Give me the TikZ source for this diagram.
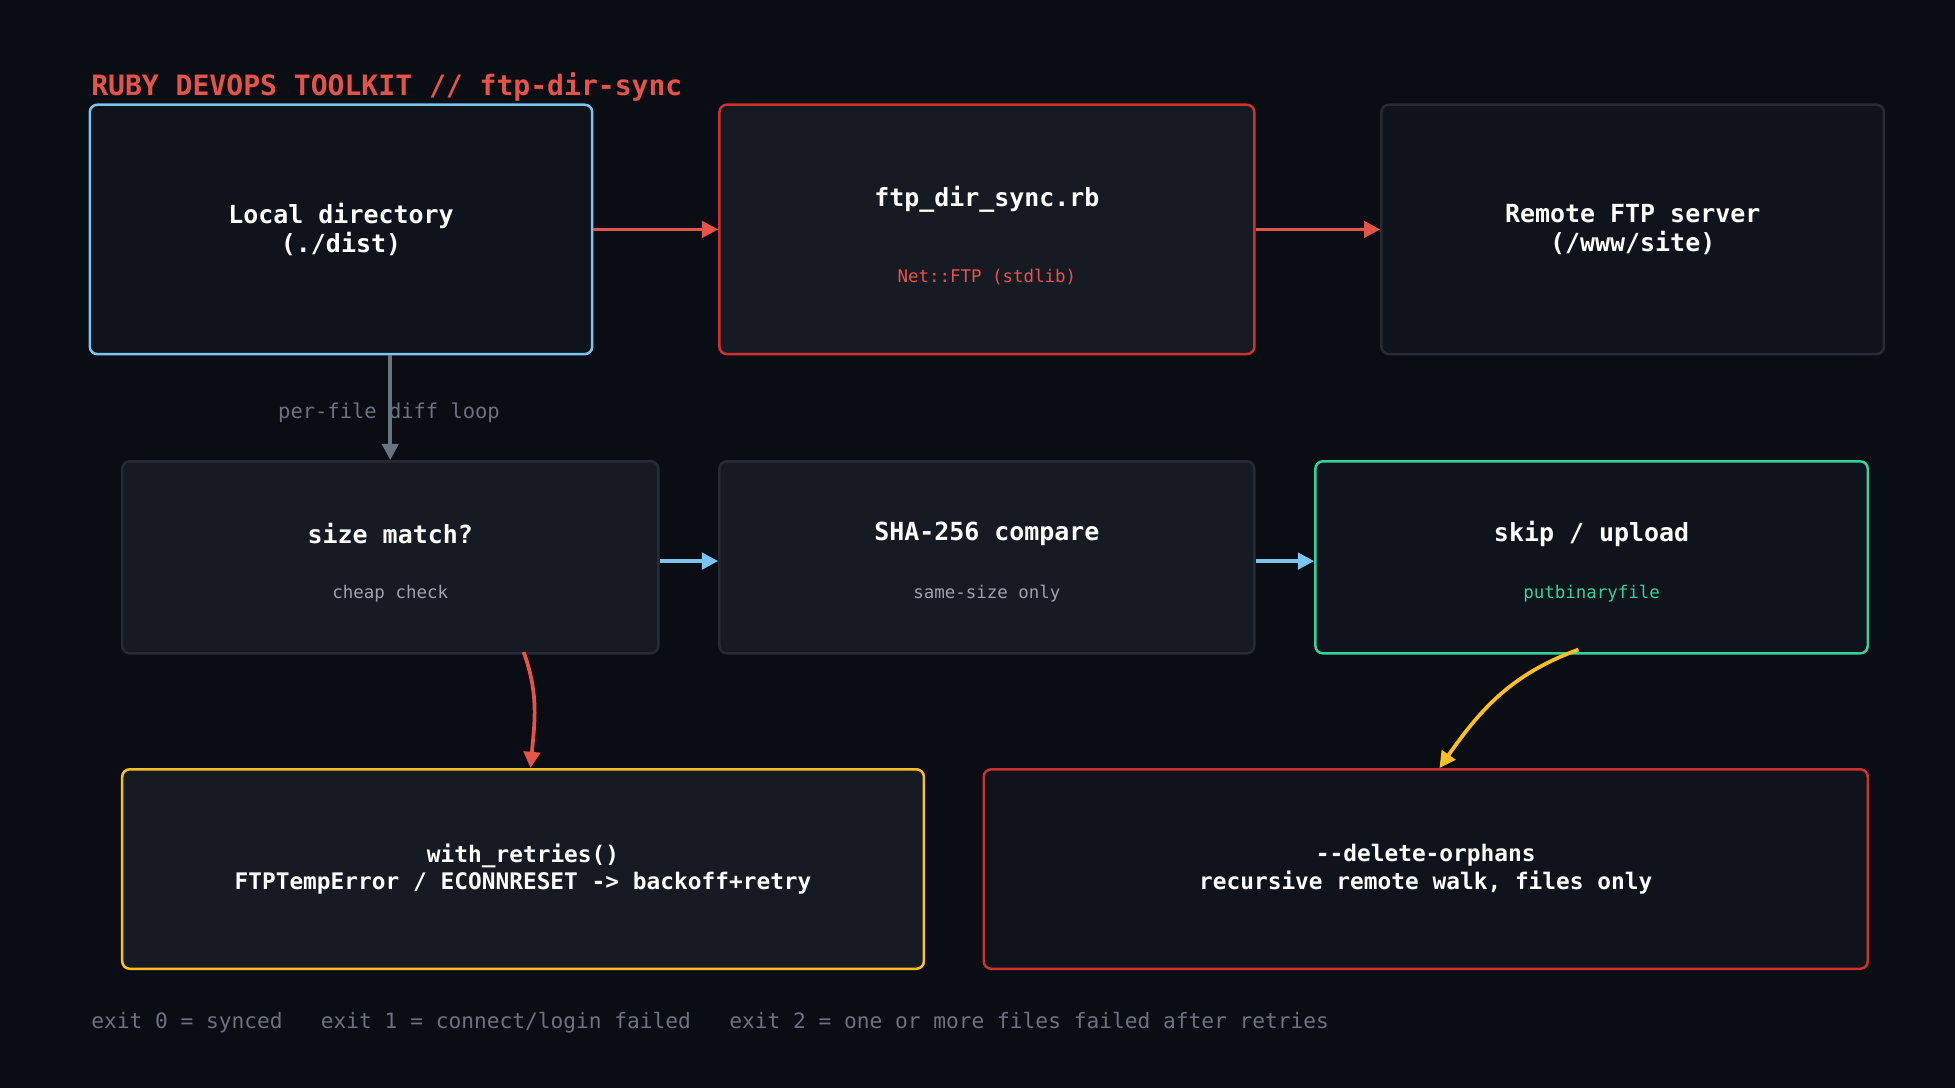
\documentclass[tikz,border=0pt]{standalone}
\usepackage{fontspec}
\setmainfont{DejaVu Sans Mono}
\usetikzlibrary{arrows.meta}
\definecolor{bgc}{HTML}{0A0D14}
\definecolor{boxa}{HTML}{0F131B}
\definecolor{boxb}{HTML}{161A22}
\definecolor{edgegray}{HTML}{262B33}
\definecolor{skyc}{HTML}{7CC4F0}
\definecolor{redc}{HTML}{D0312D}
\definecolor{redt}{HTML}{E5534B}
\definecolor{greenc}{HTML}{34D399}
\definecolor{yellowc}{HTML}{FBBF24}
\definecolor{mutec}{HTML}{6B7280}
\definecolor{subc}{HTML}{9CA3AF}
\begin{document}
\begin{tikzpicture}[x=1pt,y=-1pt,
  box/.style = {draw, line width=2pt, rounded corners=6pt, inner sep=0pt, anchor=north west},
  ttl/.style = {text=white, font=\fontsize{20}{23}\selectfont\bfseries, align=center},
  sub/.style = {font=\fontsize{14}{17}\selectfont},
  flow/.style = {line width=3pt, -{Triangle[length=13pt,width=13pt]}}]
\fill[bgc] (0,0) rectangle (1568,873);
\node[anchor=west, inner sep=0pt, text=redt, font=\fontsize{22.5}{26}\selectfont\bfseries] (title) at (73,70) {RUBY DEVOPS TOOLKIT // ftp-dir-sync};
% top row
\node[box, draw=skyc, fill=boxa, minimum width=403, minimum height=200] (local) at (71,83) {};
\node[ttl] at (local.center) {Local directory\\(./dist)};
\node[box, draw=redc, fill=boxb, minimum width=429, minimum height=200] (sync) at (576,83) {};
\node[ttl] at ([yshift=24]sync.center) {ftp\_dir\_sync.rb};
\node[sub, text=redt] at ([yshift=-38]sync.center) {Net::FTP (stdlib)};
\node[box, draw=edgegray, fill=boxa, minimum width=403, minimum height=200] (remote) at (1107,83) {};
\node[ttl] at (remote.center) {Remote FTP server\\(/www/site)};
% middle row
\node[box, draw=edgegray, fill=boxb, minimum width=430, minimum height=154] (size) at (97,369) {};
\node[ttl] at ([yshift=19]size.center) {size match?};
\node[sub, text=subc] at ([yshift=-29]size.center) {cheap check};
\node[box, draw=edgegray, fill=boxb, minimum width=429, minimum height=154] (sha) at (576,369) {};
\node[ttl] at ([yshift=19]sha.center) {SHA-256 compare};
\node[sub, text=subc] at ([yshift=-29]sha.center) {same-size only};
\node[box, draw=greenc, fill=boxa, minimum width=443, minimum height=154] (skip) at (1054,369) {};
\node[ttl] at ([yshift=19]skip.center) {skip / upload};
\node[sub, text=greenc] at ([yshift=-29]skip.center) {putbinaryfile};
% bottom row
\node[box, draw=yellowc, fill=boxb, minimum width=643, minimum height=160] (retry) at (97,616) {};
\node[ttl, font=\fontsize{18.3}{22}\selectfont\bfseries] at (retry.center) {with\_retries()\\FTPTempError / ECONNRESET -> backoff+retry};
\node[box, draw=redc, fill=boxa, minimum width=709, minimum height=160] (orphan) at (788,616) {};
\node[ttl, font=\fontsize{18.3}{22}\selectfont\bfseries] at (orphan.center) {{-}{-}delete-orphans\\recursive remote walk, files only};
% connectors
\draw[flow, redt] (local.east) -- (sync.west);
\draw[flow, redt] (sync.east) -- (remote.west);
\draw[flow, mutec] (local.south -| size.north) -- (size.north);
\node[sub, text=mutec, font=\fontsize{16.4}{19}\selectfont] (loop) at (312,331) {per-file diff loop};
\draw[flow, skyc] ([yshift=-3]size.east) -- ([yshift=-3]sha.west);
\draw[flow, skyc] ([yshift=-3]sha.east) -- ([yshift=-3]skip.west);
\coordinate (rs) at (420,523);
\coordinate (re) at ([xshift=6]retry.north);
\draw[flow, redt] (rs) to[out=-70, in=85] (re);
\coordinate (ys) at (1266,521);
\coordinate (ye) at ([xshift=11]orphan.north);
\draw[flow, yellowc] (ys) to[out=-160, in=55] (ye);
\node[anchor=west, inner sep=0pt, text=mutec, font=\fontsize{17}{20}\selectfont] (legend) at (73,820) {exit 0 = synced\ \ \ exit 1 = connect/login failed\ \ \ exit 2 = one or more files failed after retries};
\end{tikzpicture}
\end{document}
